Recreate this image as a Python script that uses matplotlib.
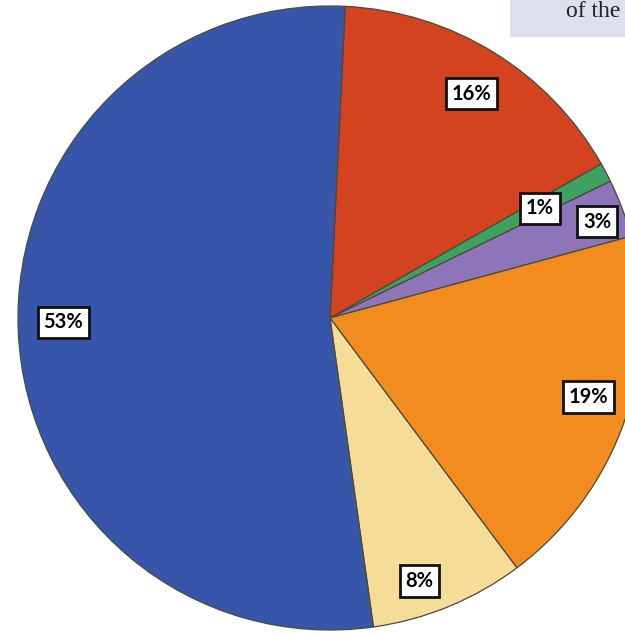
import matplotlib
matplotlib.use("Agg")
import matplotlib.pyplot as plt
import numpy as np

# ---- data ----
categories = ["Red", "Green", "Purple", "Orange", "Yellow", "Blue"]
values = [16, 1, 3, 19, 8, 53]
labels = ["16%", "1%", "3%", "19%", "8%", "53%"]
colors = ["#D4431F", "#3FA160", "#8E74B8", "#F28C1E", "#F5DD98", "#3756AA"]

# ---- layout: label radius factor and polar angle (degrees) ----
label_r = [0.85, 0.76, 0.91, 0.865, 0.89, 0.855]
label_ang = [57.7, 27.6, 19.8, -17.0, -71.2, 180.9]

W, H = 625, 634
fig = plt.figure(figsize=(W / 100, H / 100), dpi=100)
ax = fig.add_axes([0, 0, 1, 1])

cx, cy, R = 330, 316, 312
wedges, _ = ax.pie(values, colors=colors, startangle=87.2, counterclock=False,
                   center=(cx, cy), radius=R, frame=True,
                   wedgeprops=dict(edgecolor="#4a4a3a", linewidth=0.9))
ax.set_xlim(0, W)
ax.set_ylim(0, H)
ax.set_aspect("equal")
ax.axis("off")

for lab, rf, ang in zip(labels, label_r, label_ang):
    x = cx + rf * R * np.cos(np.radians(ang))
    y = cy + rf * R * np.sin(np.radians(ang))
    ax.text(x, y, lab, ha="center", va="center", fontsize=14.5,
            fontweight="bold", family=["Lato", "DejaVu Sans"], color="black",
            bbox=dict(boxstyle="square,pad=0.28", facecolor="white",
                      edgecolor="#111111", linewidth=2.0))

# top-right caption box fragment
fig.patches.append(plt.Rectangle((510 / W, 1 - 37 / H), 115 / W, 37 / H,
                                 transform=fig.transFigure, facecolor="#DCDFEC",
                                 edgecolor="none", zorder=0))
fig.text(566 / W, 1 - 17 / H, "of the", fontsize=17, family="Liberation Serif",
         color="#222222", va="baseline", ha="left")

fig.savefig("out.png", dpi=100)
